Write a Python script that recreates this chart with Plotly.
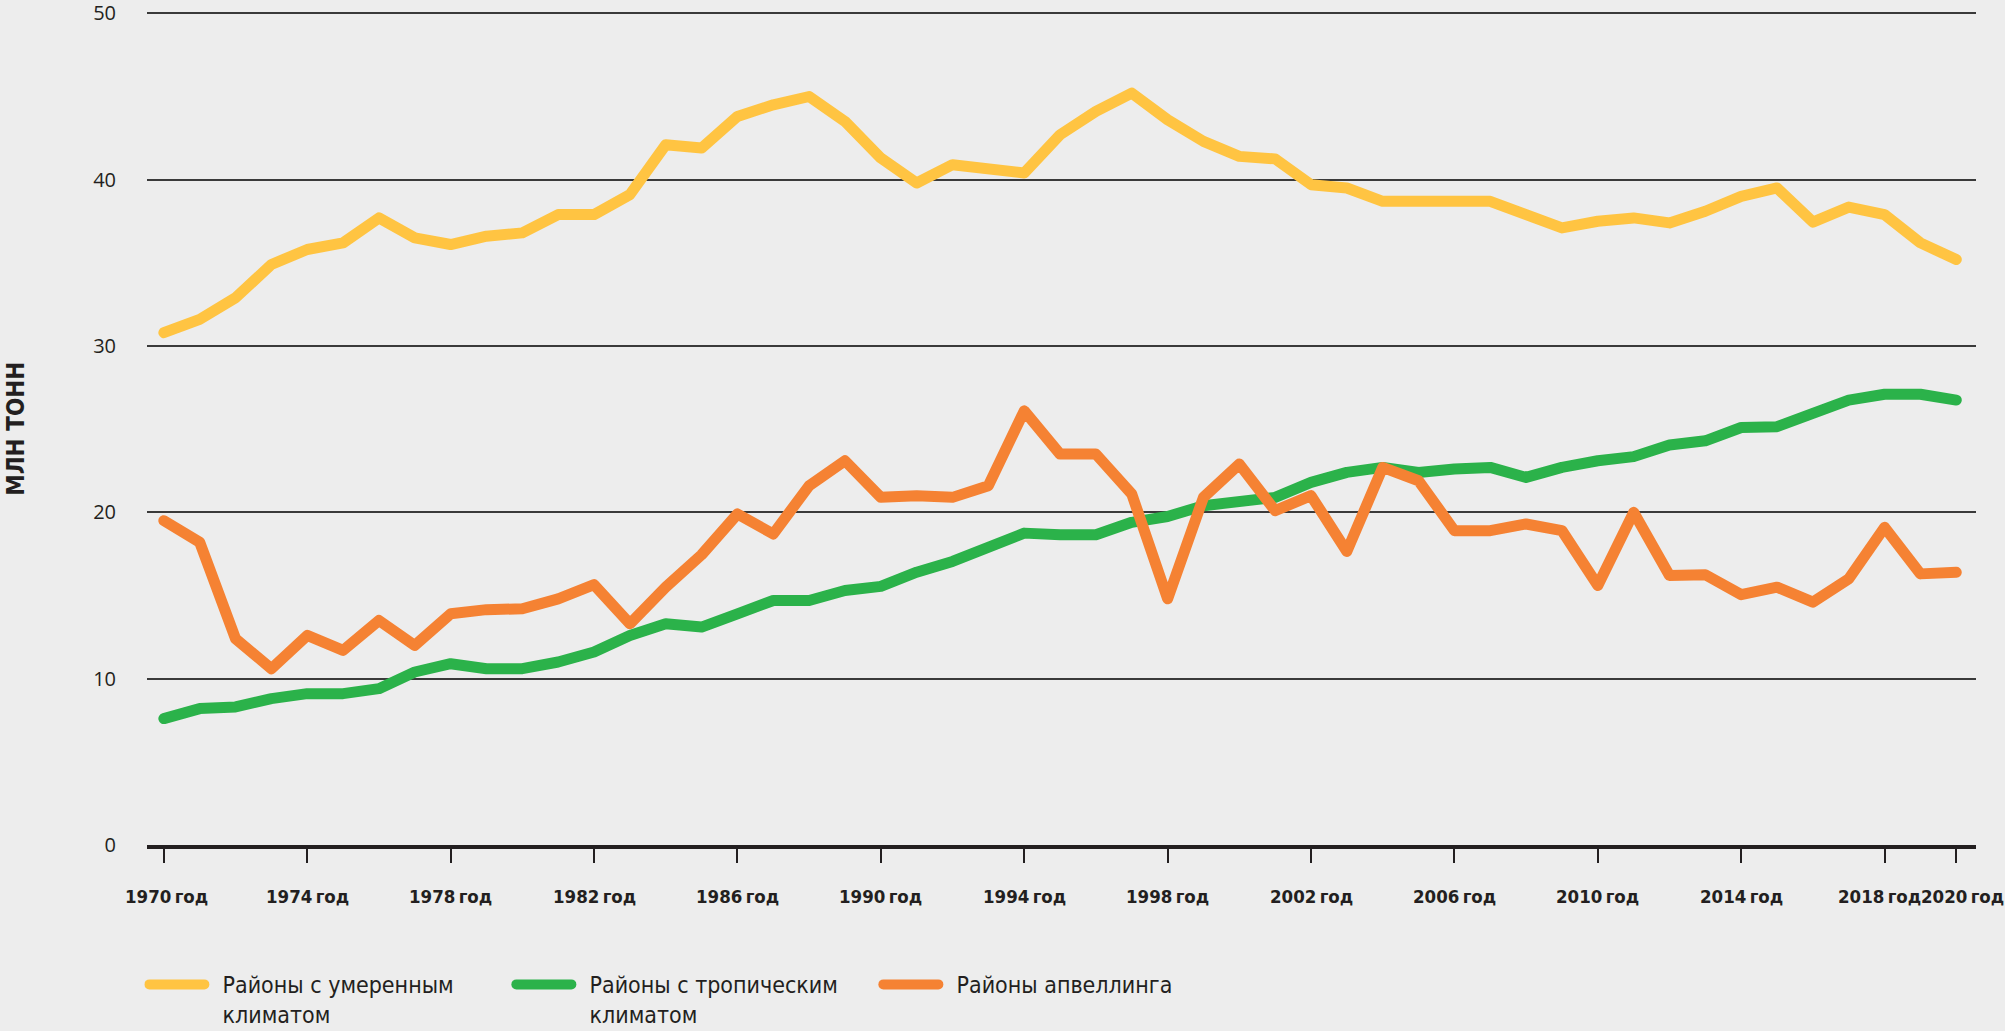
import plotly.graph_objects as go

# годы и значения (млн тонн)
years = list(range(1970, 2021))

temperate = [30.8, 31.6, 32.9, 34.9, 35.8, 36.2, 37.7, 36.5, 36.1, 36.6,
             36.8, 37.9, 37.9, 39.1, 42.1, 41.9, 43.8, 44.5, 45.0, 43.5,
             41.3, 39.8, 40.9, 40.7, 40.4, 42.7, 44.1, 45.2, 43.6, 42.3,
             41.4, 41.25, 39.7, 39.5, 38.7, 38.7, 38.7, 38.7, 37.9, 37.1,
             37.5, 37.7, 37.4, 38.1, 39.0, 39.5, 37.45, 38.35, 37.9, 36.2,
             35.2]

tropical = [7.6, 8.2, 8.3, 8.8, 9.1, 9.1, 9.4, 10.4, 10.9, 10.6,
            10.6, 11.0, 11.6, 12.6, 13.3, 13.1, 13.9, 14.7, 14.7, 15.3,
            15.55, 16.4, 17.05, 17.85, 18.75, 18.65, 18.65, 19.4, 19.75, 20.4,
            20.7, 20.9, 21.8, 22.4, 22.7, 22.4, 22.6, 22.7, 22.1, 22.7,
            23.1, 23.35, 24.05, 24.3, 25.1, 25.15, 25.95, 26.75, 27.1, 27.1,
            26.75]

upwelling = [19.5, 18.2, 12.4, 10.6, 12.6, 11.7, 13.5, 12.0, 13.9, 14.15,
             14.2, 14.8, 15.65, 13.3, 15.5, 17.45, 19.9, 18.7, 21.6, 23.1,
             20.9, 21.0, 20.9, 21.6, 26.1, 23.5, 23.5, 21.1, 14.8, 20.9,
             22.9, 20.1, 21.0, 17.65, 22.7, 21.9, 18.9, 18.9, 19.3, 18.9,
             15.6, 20.0, 16.2, 16.25, 15.05, 15.5, 14.6, 16.0, 19.1, 16.3,
             16.4]

tick_years = [1970, 1974, 1978, 1982, 1986, 1990, 1994, 1998, 2002, 2006,
              2010, 2014, 2018, 2020]
tick_labels = [f"{y}\u2009год" for y in tick_years]

NB = "\u00a0\u00a0"
series = [
    (f"{NB}Районы с умеренным<br>{NB}климатом", temperate, "#FFC442"),
    (f"{NB}Районы с тропическим<br>{NB}климатом", tropical, "#2BB24A"),
    (f"{NB}Районы апвеллинга", upwelling, "#F58233"),
]

dark = "#231F20"
bg = "#EDEDED"
narrow = "DejaVu Sans Condensed, sans-serif"

fig = go.Figure()
for name, vals, color in series:
    fig.add_trace(go.Scatter(x=years, y=vals, mode="lines", name=name,
                             line=dict(color=color, width=11)))

# подписи годов под осью (2018 и 2020 чуть раздвинуты, как в оригинале)
year_notes = []
for yr, txt in zip(tick_years, tick_labels):
    shift = {1970: 3, 2018: -5, 2020: 6}.get(yr, 0)
    year_notes.append(dict(
        text=f"<b>{txt}</b>", x=yr, xref="x", y=0, yref="paper",
        xanchor="center", yanchor="middle", yshift=-51, xshift=shift,
        showarrow=False, font=dict(family=narrow, size=18.5, color=dark),
    ))

fig.update_layout(
    width=2005, height=1031,
    paper_bgcolor=bg, plot_bgcolor=bg,
    margin=dict(l=147, r=29, t=12, b=186),
    showlegend=True,
    legend=dict(
        orientation="h", xref="container", yref="container",
        x=0.072, y=0.066, xanchor="left", yanchor="top",
        font=dict(family=narrow, size=23, color=dark),
        itemwidth=55, entrywidth=297, valign="top",
        bgcolor="rgba(0,0,0,0)", traceorder="normal",
    ),
    annotations=[dict(
        text="<b>МЛН ТОНН</b>", textangle=-90, showarrow=False,
        xref="paper", yref="paper", x=-0.072, y=0.5,
        xanchor="center", yanchor="middle",
        font=dict(family=narrow, size=24, color=dark),
    )] + year_notes,
)

fig.update_xaxes(
    range=[1969.53, 2020.55], tickvals=tick_years, showticklabels=False,
    automargin=False,
    showgrid=False, zeroline=False,
    showline=True, linecolor=dark, linewidth=4,
    ticks="outside", ticklen=14, tickwidth=1.5, tickcolor=dark,
)
fig.update_yaxes(
    range=[0, 50.08], tickvals=[0, 10, 20, 30, 40, 50],
    automargin=False, ticklabeloverflow="allow",
    showgrid=True, gridcolor="#3A3A3A", gridwidth=1.5, zeroline=False,
    ticks="", ticklabelstandoff=30,
    tickfont=dict(family="Open Sans", size=20, color=dark),
)

# скругленные концы и стыки линий, без отступов страницы
post = """
document.body.style.margin='0';
document.body.style.background='#EDEDED';
function roundLines(){
  document.querySelectorAll('.scatterlayer .js-line, .legend .js-line').forEach(function(p){
    p.style.strokeLinejoin='round'; p.style.strokeLinecap='round';
  });
}
roundLines(); setTimeout(roundLines, 50); setTimeout(roundLines, 300);
"""

fig.write_html("out.html", config={"displayModeBar": False}, post_script=post)
